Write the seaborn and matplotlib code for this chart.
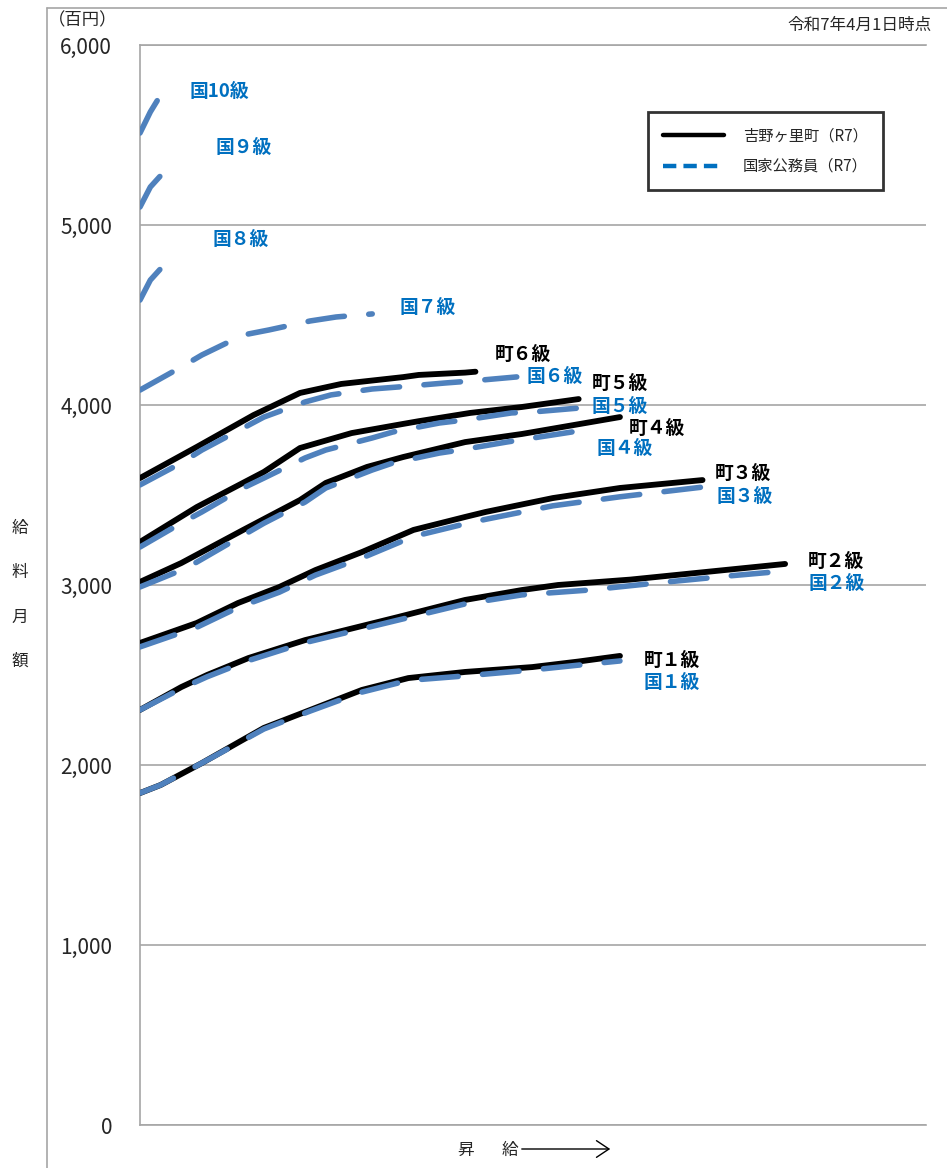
import numpy as np
import pandas as pd
import matplotlib
matplotlib.use("Agg")
import matplotlib.pyplot as plt
from matplotlib.lines import Line2D
import seaborn as sns

# ---------------- data ----------------
steps_town1 = [0, 4, 12, 24, 33, 43, 52, 63, 76, 85, 93]
town1 = [1844, 1889, 2011, 2206, 2306, 2417, 2483, 2517, 2544, 2575, 2606]
steps_nat1 = [0, 4, 12, 24, 33, 43, 52, 63, 76, 85, 93]
nat1 = [1844, 1889, 2011, 2200, 2300, 2405, 2470, 2495, 2528, 2555, 2578]

steps_town2 = [0, 8, 13, 21, 32, 50, 63, 74, 81, 95, 125]
town2 = [2306, 2433, 2500, 2594, 2694, 2822, 2917, 2972, 3000, 3030, 3117]
steps_nat2 = [0, 8, 13, 21, 32, 50, 63, 74, 87, 100, 114, 125]
nat2 = [2306, 2425, 2490, 2580, 2680, 2805, 2895, 2945, 2972, 3011, 3050, 3078]

steps_town3 = [0, 11, 19, 27, 34, 43, 53, 63, 67, 80, 93, 109]
town3 = [2678, 2789, 2900, 2989, 3083, 3183, 3306, 3378, 3406, 3483, 3539, 3583]
steps_nat3 = [0, 11, 19, 27, 34, 43, 53, 63, 67, 80, 93, 109]
nat3 = [2656, 2765, 2875, 2960, 3055, 3150, 3270, 3340, 3365, 3440, 3490, 3544]

steps_town4 = [0, 8, 20, 31, 36, 44, 51, 63, 74, 93]
town4 = [3017, 3122, 3306, 3472, 3567, 3656, 3711, 3794, 3839, 3933]
steps_nat4 = [0, 9, 24, 32, 36, 45, 49, 58, 62, 71, 85]
nat4 = [2989, 3094, 3343, 3461, 3539, 3639, 3678, 3733, 3750, 3794, 3856]

steps_town5 = [0, 11, 24, 31, 41, 51, 54, 64, 74, 85]
town5 = [3239, 3433, 3628, 3761, 3844, 3895, 3910, 3956, 3989, 4033]
steps_nat5 = [0, 8, 12, 20, 24, 32, 36, 45, 49, 58, 63, 72, 76, 85]
nat5 = [3211, 3344, 3406, 3539, 3594, 3706, 3750, 3817, 3850, 3900, 3917, 3956, 3961, 3983]

steps_town6 = [0, 11, 22, 31, 39, 51, 54, 63, 65]
town6 = [3594, 3767, 3944, 4067, 4117, 4155, 4167, 4180, 4185]
steps_nat6 = [0, 8, 12, 20, 24, 32, 37, 45, 50, 59, 64, 73]
nat6 = [3556, 3678, 3750, 3872, 3933, 4017, 4056, 4089, 4100, 4122, 4133, 4156]

steps_nat7 = [0, 8, 12, 20, 25, 33, 38, 45]
nat7 = [4083, 4211, 4278, 4389, 4417, 4467, 4489, 4506]
steps_nat8 = [0, 2, 5]
nat8 = [4583, 4694, 4789]
steps_nat9 = [0, 2, 5]
nat9 = [5100, 5211, 5306]
steps_nat10 = [0, 2, 4]
nat10 = [5511, 5628, 5722]

y_ticks = [0, 1000, 2000, 3000, 4000, 5000, 6000]

legend_labels = ["吉野ヶ里町（R7）", "国家公務員（R7）"]

label_texts = ["国10級", "国９級", "国８級", "国７級", "町６級", "国６級", "町５級", "国５級",
               "町４級", "国４級", "町３級", "国３級", "町２級", "国２級", "町１級", "国１級"]
label_x = [15.3, 20, 19.6, 55.8, 74.2, 80.4, 93, 93, 100.2, 94, 116.9, 117.2, 134.9, 134.9, 103.1, 103.1]
label_y = [5739, 5433, 4917, 4539, 4283, 4156, 4117, 3994, 3867, 3756, 3622, 3494, 3133, 3006, 2583, 2456]

# ---------------- build table ----------------
town_series = {
    "町1級": (steps_town1, town1), "町2級": (steps_town2, town2), "町3級": (steps_town3, town3),
    "町4級": (steps_town4, town4), "町5級": (steps_town5, town5), "町6級": (steps_town6, town6),
}
nat_series = {
    "国1級": (steps_nat1, nat1), "国2級": (steps_nat2, nat2), "国3級": (steps_nat3, nat3),
    "国4級": (steps_nat4, nat4), "国5級": (steps_nat5, nat5), "国6級": (steps_nat6, nat6),
    "国7級": (steps_nat7, nat7), "国8級": (steps_nat8, nat8), "国9級": (steps_nat9, nat9),
    "国10級": (steps_nat10, nat10),
}
rows = []
for name, (xs, ys) in town_series.items():
    for x, y in zip(xs, ys):
        rows.append({"series": name, "kind": "town", "step": x, "value": y})
for name, (xs, ys) in nat_series.items():
    for x, y in zip(xs, ys):
        rows.append({"series": name, "kind": "nat", "step": x, "value": y})
df = pd.DataFrame(rows)

# ---------------- style ----------------
sns.set_style("white")
plt.rcParams["font.family"] = ["Noto Sans CJK JP", "DejaVu Sans"]

W, H = 947, 1168
fig = plt.figure(figsize=(W / 100, H / 100), dpi=100)
ax = fig.add_axes([140 / W, 1 - 1125 / H, (926 - 140) / W, (1125 - 45) / H])

BLACK = "#000000"
LINE_BLUE = "#4F81BD"
TEXT_BLUE = "#0070C0"
GRID = "#A6A6A6"

for name in town_series:
    sub = df[df["series"] == name]
    sns.lineplot(data=sub, x="step", y="value", ax=ax, color=BLACK, linewidth=4.2,
                 estimator=None, sort=False, legend=False, zorder=3,
                 solid_capstyle="round", solid_joinstyle="round")
for name in nat_series:
    sub = df[df["series"] == name]
    sns.lineplot(data=sub, x="step", y="value", ax=ax, color=LINE_BLUE, linewidth=4.0,
                 estimator=None, sort=False, legend=False, zorder=4,
                 linestyle=(0, (6.6, 4.4)), dash_capstyle="round", solid_capstyle="round",
                 dash_joinstyle="round")

ax.set_xlim(0, 152.3)
ax.set_ylim(0, 6000)
ax.set_xticks([])
ax.set_yticks(y_ticks)
ax.set_yticklabels([f"{v:,}" for v in y_ticks], fontsize=15)
ax.tick_params(axis="y", length=0, pad=20)
ax.set_xlabel("")
ax.set_ylabel("")
ax.yaxis.grid(True, color=GRID, linewidth=1.2)
ax.set_axisbelow(True)
for side in ["left", "bottom", "top"]:
    ax.spines[side].set_color(GRID)
    ax.spines[side].set_linewidth(1.2)
ax.spines["right"].set_visible(False)

# line labels
for t, x, y in zip(label_texts, label_x, label_y):
    col = BLACK if t.startswith("町") else TEXT_BLUE
    ax.text(x, y, t, color=col, fontsize=13.5, fontweight="bold", ha="center", va="center", zorder=5)

# legend
handles = [Line2D([0], [0], color=BLACK, lw=3.2),
           Line2D([0], [0], color=TEXT_BLUE, lw=3.2, linestyle=(0, (3.0, 1.6)))]
leg = fig.legend(handles, legend_labels, loc="upper left",
                 bbox_to_anchor=(648 / W, 1 - 112 / H), fontsize=11,
                 frameon=True, fancybox=False, handlelength=4.0, handletextpad=1.2,
                 borderpad=1.0, labelspacing=0.9, borderaxespad=0)
leg.get_frame().set_edgecolor("black")
leg.get_frame().set_linewidth(2.0)

# outer frame lines
fig.add_artist(Line2D([47 / W, 47 / W], [0, 1 - 8 / H], color=GRID, lw=1.2, transform=fig.transFigure))
fig.add_artist(Line2D([47 / W, 1], [1 - 8 / H, 1 - 8 / H], color=GRID, lw=1.2, transform=fig.transFigure))

# texts
fig.text(48 / W, 1 - 20 / H, "（百円）", fontsize=12.5, ha="left", va="center")
fig.text(932 / W, 1 - 25 / H, "令和7年4月1日時点", fontsize=12, ha="right", va="center")
for ch, py in zip("給料月額", [528, 572, 617, 661]):
    fig.text(20 / W, 1 - py / H, ch, fontsize=12, ha="center", va="center")

fig.text(466 / W, 1 - 1150 / H, "昇", fontsize=12, ha="center", va="center")
fig.text(510 / W, 1 - 1150 / H, "給", fontsize=12, ha="center", va="center")
fig.add_artist(matplotlib.patches.FancyArrowPatch((519 / W, 1 - 1149 / H), (613 / W, 1 - 1149 / H),
                                                  transform=fig.transFigure, arrowstyle="->,head_length=6,head_width=4",
                                                  color="black", lw=1.0, mutation_scale=1.5))

fig.savefig("out.png", dpi=100)
